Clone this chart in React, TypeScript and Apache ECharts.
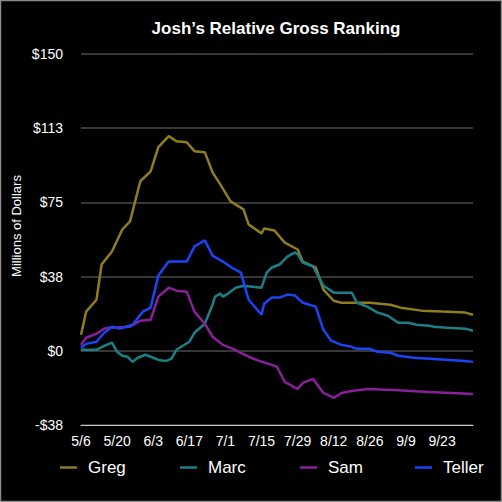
import React, { useEffect, useRef } from "react";
import * as echarts from "echarts";

const TITLE = "Josh\u2019s Relative Gross Ranking";
const Y_NAME = "Millions of Dollars";
const X_LABELS = ["5/6", "5/20", "6/3", "6/17", "7/1", "7/15", "7/29", "8/12", "8/26", "9/9", "9/23"];
const Y_LABELS = ["-$38", "$0", "$38", "$75", "$113", "$150"];
const SERIES_NAMES = ["Greg", "Marc", "Sam", "Teller"];
const COLORS = ["#8f7d1e", "#1d7f86", "#8a1f9c", "#1a45f5"];

// day offsets from 5/6 and values in millions of dollars
const gregDays = [0, 2, 6, 8, 12, 16, 19, 23, 27, 30, 34, 37, 41, 44, 48, 51, 54, 58, 63, 65, 70, 71, 75, 79, 84, 86, 91, 94, 98, 101, 112, 120, 124, 132, 140, 149, 152];
const gregValues = [8.1, 19.8, 25.8, 43.6, 50.2, 61.3, 65.4, 85.7, 90.7, 102.9, 108.5, 105.9, 105.4, 100.9, 100.4, 90.2, 84.1, 75.5, 71.5, 63.9, 59.3, 61.8, 60.8, 54.7, 51.2, 45.1, 42.1, 30.9, 25.3, 24.3, 24.3, 23.3, 21.8, 20.3, 19.8, 19.3, 18.2];

const marcDays = [0, 6, 9, 12, 14, 16, 18, 20, 22, 25, 28, 30, 33, 35, 37, 42, 44, 48, 51, 52, 54, 55, 57, 60, 63, 70, 72, 74, 77, 80, 83, 84, 86, 90, 94, 98, 105, 107, 111, 115, 119, 123, 127, 130, 135, 137, 142, 149, 152];
const marcValues = [0.5, 0.5, 2.5, 4.1, -0.5, -2.5, -3.0, -5.6, -3.5, -2.0, -3.5, -4.6, -5.1, -4.1, 0.5, 4.6, 9.1, 13.7, 23.3, 27.4, 28.9, 27.4, 28.9, 31.9, 32.9, 31.9, 39.5, 42.1, 43.6, 47.6, 49.7, 48.7, 44.6, 42.6, 32.9, 29.4, 29.4, 24.3, 22.3, 19.3, 17.7, 14.2, 14.2, 13.2, 12.7, 12.2, 11.7, 11.2, 10.1];

const samDays = [0, 2, 6, 9, 11, 19, 23, 27, 30, 34, 37, 41, 44, 48, 51, 55, 59, 62, 65, 69, 74, 76, 79, 84, 86, 90, 94, 98, 101, 105, 111, 121, 135, 152];
const samValues = [3.0, 6.6, 8.6, 11.2, 11.7, 12.2, 15.2, 15.7, 27.4, 31.9, 30.4, 29.9, 19.8, 13.7, 7.1, 3.0, 1.0, -1.0, -3.0, -5.1, -7.1, -8.1, -15.7, -19.3, -16.2, -14.2, -21.3, -23.8, -21.3, -20.3, -19.3, -19.8, -20.8, -21.8];

const tellerDays = [0, 2, 6, 9, 12, 15, 20, 24, 27, 30, 34, 41, 44, 48, 51, 55, 59, 62, 65, 70, 71, 74, 77, 80, 83, 86, 91, 94, 97, 101, 105, 107, 112, 115, 120, 123, 129, 137, 149, 152];
const tellerValues = [1.5, 3.5, 4.6, 9.1, 12.2, 11.2, 13.2, 19.8, 21.8, 38.0, 45.1, 45.1, 52.7, 55.8, 48.1, 45.1, 41.6, 39.5, 25.8, 18.2, 23.8, 26.9, 26.9, 28.4, 27.9, 24.3, 22.3, 10.6, 5.1, 3.0, 2.0, 1.0, 1.0, -0.5, -1.0, -2.5, -3.5, -4.1, -5.1, -5.6];

const X_MAX_DAY = 152;
const X_STEP = 14;
const Y_MIN = -37.5;
const Y_MAX = 150;
const Y_STEP = 37.5;

const FONT = "'Liberation Sans', Arial, Helvetica, sans-serif";

export default function App() {
  const ref = useRef<HTMLDivElement>(null);

  useEffect(() => {
    if (!ref.current) return;
    const chart = echarts.init(ref.current, null, { renderer: "svg" });
    const daySets = [gregDays, marcDays, samDays, tellerDays];
    const valSets = [gregValues, marcValues, samValues, tellerValues];
    const legendLefts = [60, 180, 300, 415];

    chart.setOption({
      animation: false,
      backgroundColor: "#000",
      grid: { left: 81, right: 29, top: 54, bottom: 77, containLabel: false },
      xAxis: {
        type: "value",
        min: 0,
        max: X_MAX_DAY,
        interval: X_STEP,
        axisLine: { show: true, onZero: false, lineStyle: { color: "#c8c8c8", width: 1 } },
        axisTick: { show: false },
        splitLine: { show: false },
        axisLabel: {
          color: "#fff",
          fontFamily: FONT,
          fontSize: 14,
          margin: 9,
          showMaxLabel: false,
          formatter: (v: number) => X_LABELS[Math.round(v / X_STEP)] ?? "",
        },
      },
      yAxis: {
        type: "value",
        min: Y_MIN,
        max: Y_MAX,
        interval: Y_STEP,
        axisLine: { show: false },
        axisTick: { show: false },
        splitLine: { show: true, lineStyle: { color: "#4a4a4a", width: 1.5 } },
        axisLabel: {
          color: "#fff",
          fontFamily: FONT,
          fontSize: 14,
          margin: 18,
          formatter: (v: number) => Y_LABELS[Math.round((v - Y_MIN) / Y_STEP)] ?? "",
        },
      },
      legend: SERIES_NAMES.map((n, i) => ({
        data: [n],
        left: legendLefts[i],
        top: 459,
        padding: 0,
        icon: "rect",
        itemWidth: 17,
        itemHeight: 2.5,
        textStyle: { color: "#fff", fontFamily: FONT, fontSize: 17, padding: [0, 0, 0, 6] },
      })),
      graphic: [
        {
          type: "rect",
          shape: { x: 0.5, y: 0.5, width: 501, height: 501 },
          style: { fill: "none", stroke: "#8a8a8a", lineWidth: 1.5 },
          silent: true,
        },
        {
          type: "text",
          x: 276,
          y: 28,
          style: {
            text: TITLE,
            fill: "#fff",
            font: `bold 17px ${FONT}`,
            textAlign: "center",
            textVerticalAlign: "middle",
          },
        },
        {
          type: "text",
          x: 16,
          y: 226,
          rotation: Math.PI / 2,
          style: {
            text: Y_NAME,
            fill: "#fff",
            font: `13px ${FONT}`,
            textAlign: "center",
            textVerticalAlign: "middle",
          },
        },
      ],
      series: SERIES_NAMES.map((n, i) => ({
        name: n,
        type: "line",
        showSymbol: false,
        symbol: "none",
        color: COLORS[i],
        lineStyle: { width: 2.5, color: COLORS[i] },
        data: daySets[i].map((d, k) => [d, valSets[i][k]]),
      })),
    });

    return () => chart.dispose();
  }, []);

  return (
    <div
      ref={ref}
      style={{ position: "fixed", left: 0, top: 0, width: 502, height: 502 }}
    />
  );
}
